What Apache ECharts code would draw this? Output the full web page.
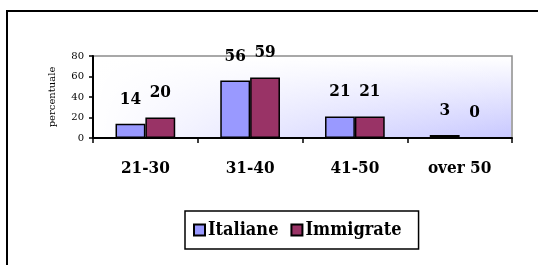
<!DOCTYPE html>
<html>
<head>
<meta charset="utf-8">
<script src="https://cdn.jsdelivr.net/npm/echarts@6/dist/echarts.min.js"></script>
<style>
  html, body { margin: 0; padding: 0; background: #fff; }
  #chart { width: 538px; height: 265px; }
</style>
</head>
<body>
<div id="chart"></div>
<script>
// dati del grafico
const categories = ['21-30', '31-40', '41-50', 'over 50']
const italiane = [14, 56, 21, 3]
const immigrate = [20, 59, 21, 0]
const yTicks = { min: 0, max: 80, interval: 20 }

const serif = 'DejaVu Serif'
const serifBold = "'DejaVu Serif Condensed', 'DejaVu Serif'"
const myCharts = echarts.init(document.getElementById('chart'))

const barLabel = {
  show: true,
  position: 'top',
  distance: 16,
  color: '#000',
  fontFamily: serifBold,
  fontWeight: 'bold',
  fontSize: 17
}

// area del grafico: x 93..512, y 56..138
const plot = { x: 93, y: 56, w: 419, h: 82 }

// sfondo sfumato: lilla in basso a destra, bianco in alto e a sinistra
function makeBackground(w, h) {
  const cv = document.createElement('canvas')
  cv.width = w
  cv.height = h
  const ctx = cv.getContext('2d')
  const gv = ctx.createLinearGradient(0, 0, 0, h)
  gv.addColorStop(0, '#ffffff')
  gv.addColorStop(1, '#c8c8ff')
  ctx.fillStyle = gv
  ctx.fillRect(0, 0, w, h)
  const gh = ctx.createLinearGradient(0, 0, w, 0)
  gh.addColorStop(0, 'rgba(255,255,255,1)')
  gh.addColorStop(0.5, 'rgba(255,255,255,0.45)')
  gh.addColorStop(1, 'rgba(255,255,255,0)')
  ctx.fillStyle = gh
  ctx.fillRect(0, 0, w, h)
  return cv
}

const option = {
  animation: false,
  backgroundColor: '#fff',
  graphic: [
    // cornice esterna
    {
      type: 'rect',
      shape: { x: 7, y: 11, width: 600, height: 300 },
      style: { fill: 'none', stroke: '#000', lineWidth: 2 },
      z: 0
    },
    {
      type: 'image',
      style: {
        image: makeBackground(plot.w - 2, plot.h - 2),
        x: plot.x + 1,
        y: plot.y + 1,
        width: plot.w - 2,
        height: plot.h - 2
      },
      z: 1
    }
  ],
  grid: {
    left: plot.x,
    right: 538 - plot.x - plot.w,
    top: plot.y,
    bottom: 265 - plot.y - plot.h,
    show: true,
    borderColor: '#8c8c8c',
    borderWidth: 1.5
  },
  legend: {
    left: 185,
    top: 211,
    padding: [10, 17, 10, 8],
    borderColor: '#000',
    borderWidth: 1.5,
    backgroundColor: '#fff',
    itemWidth: 11,
    itemHeight: 11,
    itemGap: 12,
    icon: 'rect',
    textStyle: {
      color: '#000',
      fontFamily: serifBold,
      fontWeight: 'bold',
      fontSize: 18,
      padding: [0, 0, 0, -2]
    },
    data: ['Italiane', 'Immigrate']
  },
  xAxis: {
    type: 'category',
    data: categories,
    axisLine: { lineStyle: { color: '#000', width: 2 } },
    axisTick: { show: true, length: 5, lineStyle: { color: '#000', width: 1.5 } },
    axisLabel: {
      margin: 22,
      color: '#000',
      fontFamily: serifBold,
      fontWeight: 'bold',
      fontSize: 17
    }
  },
  yAxis: {
    type: 'value',
    min: yTicks.min,
    max: yTicks.max,
    interval: yTicks.interval,
    name: 'percentuale',
    nameLocation: 'middle',
    nameGap: 36,
    nameRotate: 90,
    nameTextStyle: { color: '#000', fontFamily: serif, fontSize: 10 },
    axisLine: { show: true, lineStyle: { color: '#000', width: 2 } },
    axisTick: { show: true, length: 4, lineStyle: { color: '#000', width: 1.5 } },
    splitLine: { show: false },
    axisLabel: { margin: 9, color: '#000', fontFamily: serif, fontSize: 10 }
  },
  series: [
    {
      name: 'Italiane',
      type: 'bar',
      data: italiane,
      barGap: '0%',
      barCategoryGap: '43%',
      z: 3,
      itemStyle: { color: '#9999ff', borderColor: '#000', borderWidth: 1.5 },
      label: barLabel
    },
    {
      name: 'Immigrate',
      type: 'bar',
      data: immigrate,
      z: 3,
      itemStyle: { color: '#993366', borderColor: '#000', borderWidth: 1.5 },
      label: barLabel
    }
  ]
}
myCharts.setOption(option)
</script>
</body>
</html>
